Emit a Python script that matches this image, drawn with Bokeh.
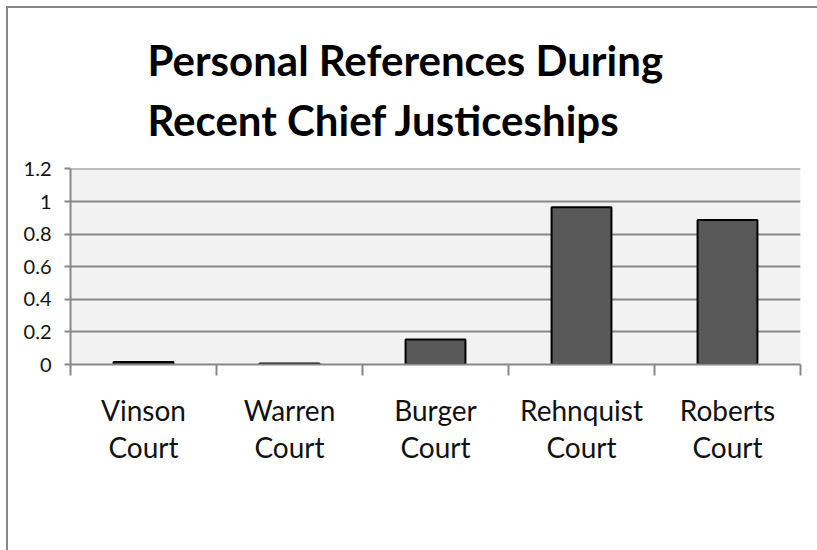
from bokeh.plotting import figure
from bokeh.models import (FixedTicker, LinearAxis, Title, Legend, LegendItem,
                          Range1d, ColumnDataSource, Grid)
from bokeh.embed import file_html
from bokeh.resources import INLINE

courts = ["Vinson Court", "Warren Court", "Burger Court", "Rehnquist Court", "Roberts Court"]
avg_refs = [0.015, 0.006, 0.153, 0.965, 0.887]
y_ticks = [0, 0.2, 0.4, 0.6, 0.8, 1.0, 1.2]
y_tick_labels = ["0", "0.2", "0.4", "0.6", "0.8", "1", "1.2"]
series_name = "Average Personal References per Opinion"
title_lines = ["Personal References During", "Recent Chief Justiceships"]

FONT = "Lato"
GRID = "#878787"

pos = [i + 0.5 for i in range(len(courts))]
src = ColumnDataSource(dict(x=pos, top=avg_refs, court=courts))

p = figure(frame_width=730, frame_height=196, output_backend="svg", toolbar_location=None,
           x_range=Range1d(0, len(courts)), y_range=Range1d(0, 1.203),
           x_axis_type=None, y_axis_type=None,
           min_border_left=62, min_border_right=17, min_border_top=156,
           min_border_bottom=32)
p.styles = {"border-left": "2px solid #878787", "border-top": "2px solid #878787",
            "margin-left": "6px", "margin-top": "6px"}
p.background_fill_color = "#f2f2f2"
p.border_fill_color = "white"
p.outline_line_color = None

yticker = FixedTicker(ticks=y_ticks)
p.add_layout(Grid(dimension=1, ticker=yticker, grid_line_color=GRID, grid_line_width=2))

yaxis = LinearAxis(ticker=yticker,
                   major_label_overrides={t: l for t, l in zip(y_ticks, y_tick_labels)},
                   axis_line_color=GRID, axis_line_width=2,
                   major_tick_line_color=GRID, major_tick_line_width=2,
                   major_tick_out=6, major_tick_in=0, minor_tick_line_color=None,
                   major_label_text_font=FONT, major_label_text_font_size="20px",
                   major_label_text_color="#111111", major_label_standoff=13)
p.add_layout(yaxis, "left")

# x axis line with ticks at category boundaries
xaxis1 = LinearAxis(ticker=FixedTicker(ticks=list(range(len(courts) + 1))),
                    major_label_overrides={i: "" for i in range(len(courts) + 1)},
                    axis_line_color=GRID, axis_line_width=2,
                    major_tick_line_color=GRID, major_tick_line_width=2,
                    major_tick_out=11, major_tick_in=0, minor_tick_line_color=None,
                    major_label_text_font_size="1px", major_label_standoff=0)
p.add_layout(xaxis1, "below")

# category labels, one axis per text line
label_lines = list(zip(*[c.split(" ") for c in courts]))
for k, words in enumerate(label_lines):
    ax = LinearAxis(ticker=FixedTicker(ticks=pos),
                    major_label_overrides={x: w for x, w in zip(pos, words)},
                    axis_line_color=None, major_tick_line_color=None,
                    minor_tick_line_color=None, major_tick_out=0, major_tick_in=0,
                    major_label_text_font=FONT, major_label_text_font_size="28px",
                    major_label_text_color="#111111",
                    major_label_standoff=17 if k == 0 else 0)
    p.add_layout(ax, "below")

bars = p.vbar(x="x", top="top", width=0.41, bottom=0, source=src,
              fill_color="#595959", line_color="black", line_width=2)

legend = Legend(items=[LegendItem(label=series_name, renderers=[bars])],
                location="top_left", orientation="horizontal",
                glyph_width=17, glyph_height=17, label_standoff=5,
                label_text_font=FONT, label_text_font_size="22px",
                label_text_color="#111111",
                border_line_color=None, background_fill_alpha=0,
                padding=0, margin=0)
p.add_layout(legend, "below")

p.add_layout(Title(text="\n".join(title_lines), align="left", offset=77, standoff=48,
                   text_line_height=1.2,
                   text_font=FONT, text_font_style="bold", text_font_size="42px",
                   text_color="black"), "above")

open("out.html", "w").write(file_html(p, INLINE))
